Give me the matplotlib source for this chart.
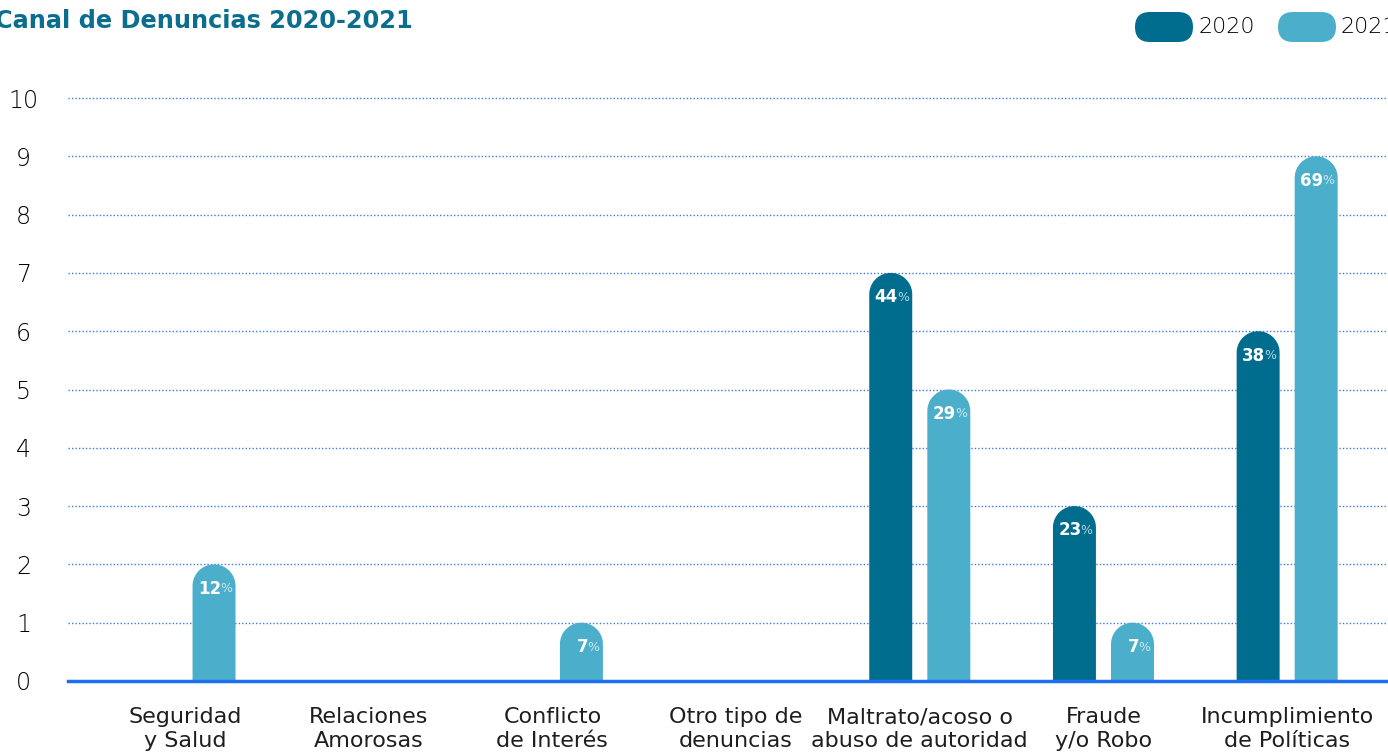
import numpy as np
import matplotlib
matplotlib.use("Agg")
import matplotlib.pyplot as plt
from matplotlib.path import Path
from matplotlib.patches import PathPatch, FancyBboxPatch
from matplotlib.transforms import IdentityTransform

categories = ["Seguridad\ny Salud", "Relaciones\nAmorosas", "Conflicto\nde Interés",
              "Otro tipo de\ndenuncias", "Maltrato/acoso o\nabuso de autoridad",
              "Fraude\ny/o Robo", "Incumplimiento\nde Políticas"]
values_2020 = [0, 0, 0, 0, 7, 3, 6]
values_2021 = [2, 0, 1, 0, 5, 1, 9]
pct_2020 = ["", "", "", "", "44", "23", "38"]
pct_2021 = ["12", "", "7", "", "29", "7", "69"]
y_ticks = [0, 1, 2, 3, 4, 5, 6, 7, 8, 9, 10]
series_names = ["2020", "2021"]

C2020 = "#006D8F"
C2021 = "#4BAFCB"
TITLE_C = "#0B6E8E"
GRID_C = "#3B7BE3"
ZERO_C = "#1E6FF0"
TXT_C = "#1E1E1E"
FONT = "DejaVu Sans"

W, H = 1388, 754
fig = plt.figure(figsize=(W / 100, H / 100), dpi=100)
ax_left, ax_right = 68, 1388
ax_top, ax_bottom = 98, 681
ax = fig.add_axes([ax_left / W, (H - ax_bottom) / H, (ax_right - ax_left) / W, (ax_bottom - ax_top) / H])

x = np.arange(len(categories))
xlim = (-0.637, 6.549)
ax.set_xlim(*xlim)
ax.set_ylim(0, 10)

for s in ax.spines.values():
    s.set_visible(False)
ax.set_yticks(y_ticks)
ax.set_yticklabels([str(t) for t in y_ticks], fontsize=17, color="#000000", fontfamily=FONT,
                   fontweight="light")
ax.tick_params(axis="y", length=0, pad=32)
for lab in ax.get_yticklabels():
    lab.set_horizontalalignment("center")
ax.set_xticks(x)
ax.set_xticklabels(categories, fontsize=16, color=TXT_C, fontfamily=FONT, linespacing=1.2)
ax.tick_params(axis="x", length=0, pad=19)

for t in y_ticks[1:]:
    ax.axhline(t, color=GRID_C, lw=1.0, ls=(0, (1, 1.5)), zorder=1, clip_on=False)
ax.axhline(0, color=ZERO_C, lw=2.5, zorder=4, clip_on=False)

# pixel scales
px_per_x = (ax_right - ax_left) / (xlim[1] - xlim[0])
px_per_y = (ax_bottom - ax_top) / 10.0
bw = 0.234
off = 0.158
rx = bw / 2
ry = rx * px_per_x / px_per_y


def rounded_bar(xc, h, color):
    if h <= 0:
        return
    x0, x1 = xc - rx, xc + rx
    th = np.linspace(np.pi, 0, 40)
    arc = np.column_stack([xc + rx * np.cos(th), (h - ry) + ry * np.sin(th)])
    verts = [(x0, 0), (x0, h - ry)] + [tuple(p) for p in arc] + [(x1, h - ry), (x1, 0), (x0, 0)]
    codes = [Path.MOVETO] + [Path.LINETO] * (len(verts) - 2) + [Path.CLOSEPOLY]
    ax.add_patch(PathPatch(Path(verts, codes), facecolor=color, edgecolor="none", zorder=3))


def label(xc, h, txt):
    if not txt:
        return
    ax.annotate(txt, (xc, h), xytext=(5, -17.5), textcoords="offset points", ha="right", va="center",
                fontsize=12, fontweight="bold", color="white", fontfamily=FONT, zorder=5)
    ax.annotate("%", (xc, h), xytext=(4.5, -17.5), textcoords="offset points", ha="left", va="center",
                fontsize=9, color="white", alpha=0.7, fontfamily=FONT, zorder=5)


for i in range(len(categories)):
    rounded_bar(x[i] - off, values_2020[i], C2020)
    rounded_bar(x[i] + off, values_2021[i], C2021)
    label(x[i] - off, values_2020[i], pct_2020[i])
    label(x[i] + off, values_2021[i], pct_2021[i])

# title
fig.text(-5 / W, 1 - 21 / H, "Canal de Denuncias 2020-2021", fontsize=17.3, fontweight="bold",
         color=TITLE_C, fontfamily=FONT, ha="left", va="center")

# legend (pills drawn in pixel coordinates)
for (px0, name, col) in [(1135, series_names[0], C2020), (1278, series_names[1], C2021)]:
    pill = FancyBboxPatch((px0, H - 42), 58, 30,
                          boxstyle="round,pad=0,rounding_size=15",
                          transform=IdentityTransform(), facecolor=col, edgecolor="none")
    fig.add_artist(pill)
    fig.text((px0 + 63) / W, 1 - 27 / H, name, fontsize=16, color="#000000", fontweight="light",
             fontfamily=FONT, ha="left", va="center")

fig.savefig("out.png", dpi=100)
